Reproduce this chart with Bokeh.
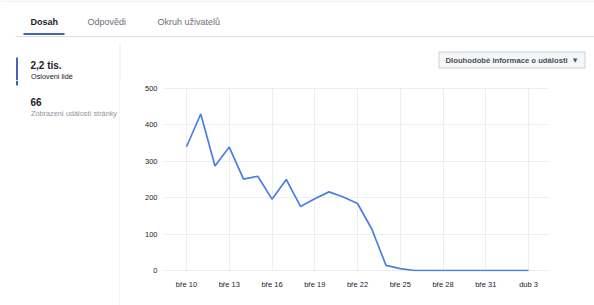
from bokeh.plotting import figure
from bokeh.models import Range1d, FixedTicker
from bokeh.layouts import column, row
from bokeh.core.properties import value
from bokeh.embed import file_html
from bokeh.resources import INLINE

# ---- data ----
day_index = list(range(25))  # bře 10 ... dub 3
reach = [340, 430, 287, 339, 251, 259, 196, 250, 176, 197, 216, 202, 184,
         114, 14, 5, 0, 0, 0, 0, 0, 0, 0, 0, 0]
tick_pos = [0, 3, 6, 9, 12, 15, 18, 21, 24]
tick_labels = ["bře 10", "bře 13", "bře 16", "bře 19", "bře 22",
               "bře 25", "bře 28", "bře 31", "dub 3"]
y_ticks = [0, 100, 200, 300, 400, 500]

tabs = ["Dosah", "Odpovědi", "Okruh uživatelů"]
metric_values = ["2,2 tis.", "66"]
metric_names = ["Osloveni lidé", "Zobrazení událostí stránky"]
button_text = "Dlouhodobé informace o události"

FONT = "Liberation Sans"
DARK = "#1d2129"


def panel(x0, x1, y0, y1):
    f = figure(width=x1 - x0, height=y1 - y0, output_backend="svg",
               toolbar_location=None, x_range=Range1d(x0, x1),
               y_range=Range1d(y1, y0), x_axis_location=None,
               y_axis_location=None, min_border=0,
               background_fill_color="white", border_fill_color="white")
    f.outline_line_color = None
    f.grid.visible = False
    return f


def text(f, x, y, s, size, color, bold=False, font=FONT, align="left"):
    f.text([x], [y], text=[s], text_font=value(font), text_font_size=size,
           text_color=color, text_baseline="middle", text_align=align,
           text_font_style="bold" if bold else "normal")


def box(f, x0, y0, x1, y1, fill, line=None):
    f.quad(left=[x0], right=[x1], top=[y0], bottom=[y1], fill_color=fill,
           line_color=line, line_width=1 if line else 0)


# ---- top band: tabs, button, upper part of left panel ----
top = panel(0, 594, 0, 80)
box(top, 0, 0, 594, 1, "#e5e6e9")
text(top, 30, 21, tabs[0], "9px", DARK, bold=True)
text(top, 87, 21, tabs[1], "9px", "#6b7079")
text(top, 157, 21, tabs[2], "9px", "#6b7079")
box(top, 15, 35.5, 594, 36.5, "#dddfe2")
box(top, 23, 32.5, 64, 34.5, "#4267b2")
box(top, 15.5, 57, 17.5, 80, "#4267b2")
text(top, 30, 65, metric_values[0], "10px", DARK, bold=True)
text(top, 30.5, 75.5, metric_names[0], "7.3px", DARK)
box(top, 119, 43, 120, 80, "#e9ebee")
box(top, 438.5, 51.5, 584.5, 67.5, "#f5f6f7", "#ccd0d5")
text(top, 445, 59.5, button_text, "7.7px", "#4b4f56", bold=True)
text(top, 574.5, 59.5, "▼", "5.5px", "#4b4f56", font="DejaVu Sans", align="center")

# ---- left panel (lower part) ----
left = panel(0, 120, 80, 305)
box(left, 15.5, 80, 17.5, 85, "#4267b2")
text(left, 30, 101.5, metric_values[1], "10px", DARK, bold=True)
text(left, 30.5, 112.5, metric_names[1], "7.3px", "#90949c")
box(left, 119, 80, 120, 305, "#e9ebee")

# ---- chart ----
p = figure(width=474, height=225, output_backend="svg", toolbar_location=None,
           x_range=Range1d(-1.614, 25.47), y_range=Range1d(-2.8, 502.8),
           min_border_left=43, min_border_right=45, min_border_top=7,
           min_border_bottom=34, background_fill_color="white",
           border_fill_color="white")
p.outline_line_color = None
p.line(day_index, reach, line_color="#4a7ee6", line_width=1.7)

p.xaxis.ticker = FixedTicker(ticks=tick_pos)
p.xaxis.major_label_overrides = {t: l for t, l in zip(tick_pos, tick_labels)}
p.yaxis.ticker = FixedTicker(ticks=y_ticks)
for ax in (p.xaxis, p.yaxis):
    ax.axis_line_color = None
    ax.major_tick_line_color = None
    ax.minor_tick_line_color = None
    ax.major_tick_in = 0
    ax.major_tick_out = 0
    ax.major_label_text_font = FONT
    ax.major_label_text_font_size = "7.5px"
    ax.major_label_text_color = DARK
p.xaxis.major_label_standoff = 8
p.yaxis.major_label_standoff = 6
p.xgrid.grid_line_color = "#eceef1"
p.ygrid.grid_line_color = "#eceef1"

layout = column(top, row(column(left), p))
open("out.html", "w").write(file_html(layout, INLINE))
